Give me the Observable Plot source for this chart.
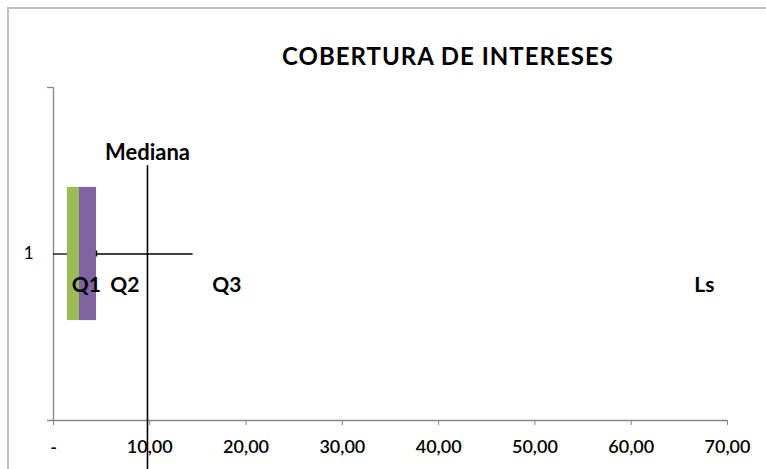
<!DOCTYPE html>
<html><head><meta charset="utf-8">
<script src="https://cdn.jsdelivr.net/npm/d3@7"></script>
<script src="https://cdn.jsdelivr.net/npm/@observablehq/plot@0.6"></script>
<style>
body{margin:0;background:#fff;width:766px;height:469px;overflow:hidden;position:relative;font-family:Lato,"Open Sans",sans-serif;}
#frame{position:absolute;left:7px;top:7px;width:900px;height:600px;border-left:2px solid #c0c0c0;border-top:2px solid #c0c0c0;}
#title{position:absolute;left:0;top:44px;width:896px;text-align:center;font-weight:bold;font-size:24px;line-height:24px;letter-spacing:1px;color:#000;}
#chart{position:absolute;left:0;top:0;}
</style></head>
<body>
<div id="frame"></div>
<div id="title">COBERTURA DE INTERESES</div>
<div id="chart"></div>
<script>
// Data
const boxSeries = ["Q1 a Q2", "Q2 a Q3"];
const boxStart = [1.45, 2.7];
const boxEnd = [2.7, 4.47];
const whiskerStart = [0, 4.47];
const whiskerEnd = [1.45, 14.5];
const median = 9.76;
const medianLabel = ["Mediana"];
const pointLabels = ["Q1", "Q2", "Q3", "Ls"];
const pointLabelX = [3.4, 7.4, 18.0, 67.6];
const category = [1];
const xTicks = [0, 10, 20, 30, 40, 50, 60, 70];

const fmt = d => d === 0 ? "-" : d3.format(".2f")(d).replace(".", ",");
const idx = d3.range(2);
const gray = "#868686";

const chart = Plot.plot({
  width: 766, height: 469,
  marginLeft: 53, marginRight: 39, marginTop: 87, marginBottom: 49,
  x: {domain: [0, 70]},
  y: {domain: [0, 2]},
  color: {domain: boxSeries, range: ["#9bbb59", "#8064a2"]},
  style: {background: "transparent", fontFamily: "Lato, 'Open Sans', sans-serif", color: "#000"},
  marks: [
    // y axis
    Plot.ruleX([0], {y1: 0, y2: 2, stroke: gray, strokeWidth: 1.3}),
    Plot.ruleY([2], {x1: -0.62, x2: 0, stroke: gray, strokeWidth: 1.3}),
    Plot.ruleY([0], {x1: -0.62, x2: 70, stroke: gray, strokeWidth: 1.3}),
    Plot.axisY({ticks: category, tickSize: 0, tickPadding: 20, tickFormat: d => String(d), fontSize: 17, fill: "#000"}),
    Plot.axisX({ticks: xTicks, tickSize: 5, tickPadding: 15, stroke: gray, tickFormat: fmt, fontSize: 18, fontWeight: 600, fill: "#000", label: null}),
    // box
    Plot.rect(idx, {x1: i => boxStart[i], x2: i => boxEnd[i], y1: 0.6, y2: 1.4, fill: i => boxSeries[i]}),
    // whiskers
    Plot.ruleY(idx, {y: 1, x1: i => whiskerStart[i], x2: i => whiskerEnd[i], stroke: "#000", strokeWidth: 1.3}),
    Plot.ruleX([whiskerStart[1]], {y1: 0.982, y2: 1.018, stroke: "#000", strokeWidth: 1.3}),
    // median
    Plot.ruleX([median], {y1: 1.53, y2: -0.3, stroke: "#000", strokeWidth: 1.6}),
    Plot.text(medianLabel, {x: median, y: 1.53, dy: -13, fontWeight: "bold", fontSize: 22, fill: "#000"}),
    Plot.text(pointLabels, {x: (d, i) => pointLabelX[i], y: 0.81, fontWeight: "bold", fontSize: 21, fill: "#000"})
  ]
});
document.getElementById("chart").append(chart);
</script>
</body></html>
